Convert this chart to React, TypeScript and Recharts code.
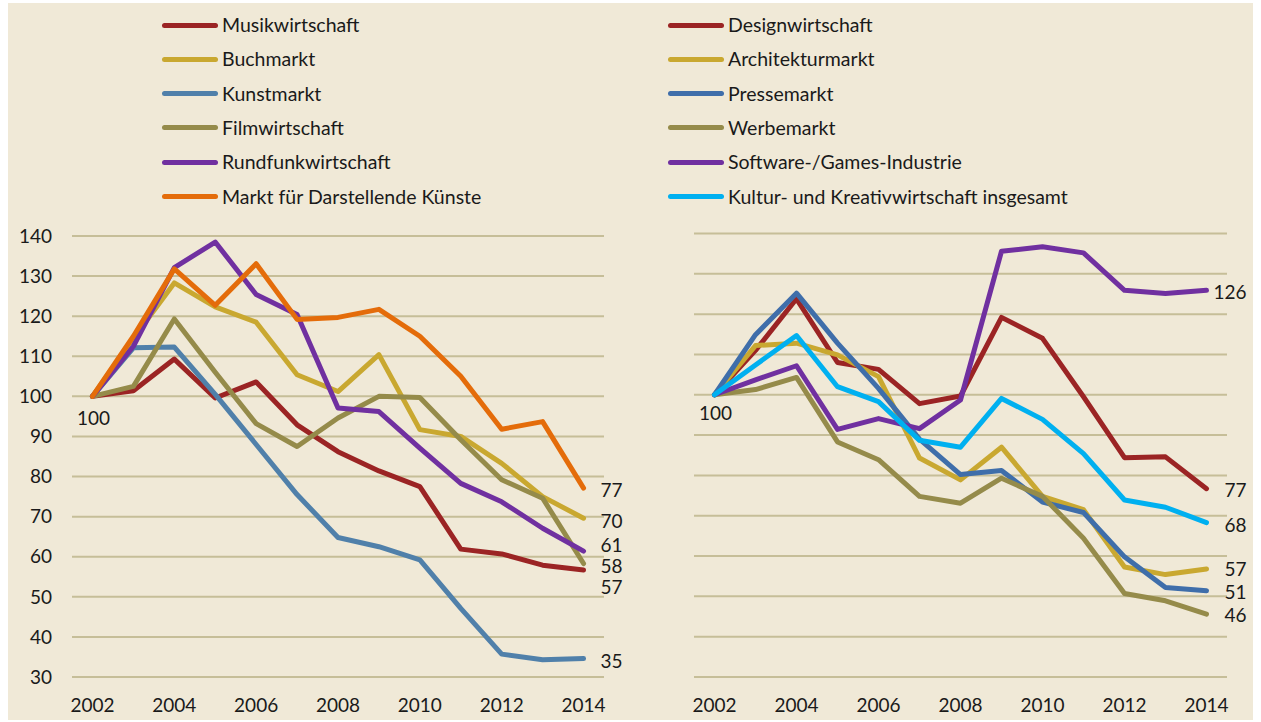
import React from 'react';
import { LineChart, Line, XAxis, YAxis, CartesianGrid, LabelList } from 'recharts';

// years and ticks
const years = [2002, 2003, 2004, 2005, 2006, 2007, 2008, 2009, 2010, 2011, 2012, 2013, 2014];
const yearTicks = [2002, 2004, 2006, 2008, 2010, 2012, 2014];
const indexTicks = [30, 40, 50, 60, 70, 80, 90, 100, 110, 120, 130, 140];

// left panel
const musikwirtschaft = [100, 101.4, 109.3, 99.6, 103.6, 92.9, 86.2, 81.4, 77.5, 61.9, 60.7, 57.9, 56.7];
const buchmarkt = [100, 114.5, 128.3, 122.3, 118.5, 105.4, 101.2, 110.4, 91.7, 90.0, 83.3, 75.0, 69.6];
const kunstmarkt = [100, 112.1, 112.3, 100.5, 88.0, 75.5, 64.8, 62.5, 59.2, 47.1, 35.7, 34.3, 34.6];
const filmwirtschaft = [100, 102.5, 119.3, 106.0, 93.2, 87.5, 94.6, 100.0, 99.7, 89.2, 79.2, 74.6, 58.3];
const rundfunkwirtschaft = [100, 112.5, 132.1, 138.5, 125.4, 120.4, 97.1, 96.2, 87.1, 78.3, 73.7, 67.1, 61.4];
const darstellendeKuenste = [100, 115.0, 131.8, 122.7, 133.1, 119.2, 119.7, 121.7, 115.0, 105.0, 91.8, 93.7, 77.1];

// right panel
const designwirtschaft = [100, 111.0, 123.8, 108.0, 106.3, 97.8, 99.7, 119.2, 114.0, 99.5, 84.4, 84.6, 76.7];
const architekturmarkt = [100, 112.2, 112.8, 109.9, 104.5, 84.3, 78.9, 87.0, 74.8, 71.5, 57.3, 55.4, 56.8];
const pressemarkt = [100, 114.9, 125.2, 112.8, 101.6, 89.0, 80.2, 81.2, 73.4, 70.8, 59.8, 52.2, 51.4];
const werbemarkt = [100, 101.3, 104.3, 88.3, 83.9, 74.8, 73.1, 79.3, 74.8, 64.4, 50.7, 48.9, 45.6];
const softwareGames = [100, 103.7, 107.2, 91.4, 94.1, 91.6, 98.7, 135.6, 136.7, 135.2, 125.9, 125.1, 125.9];
const kreativwirtschaftGesamt = [100, 107.4, 114.7, 102.0, 98.3, 88.7, 87.0, 99.1, 93.9, 85.4, 73.9, 72.1, 68.3];

type Series = { key: string; name: string; values: number[]; color: string; dx: number; dy: number; start?: number };

const leftSeries: Series[] = [
  { key: 'musik', name: 'Musikwirtschaft', values: musikwirtschaft, color: '#9B2424', dx: 17, dy: 17, start: 21 },
  { key: 'buch', name: 'Buchmarkt', values: buchmarkt, color: '#C9A830', dx: 17, dy: 2 },
  { key: 'kunst', name: 'Kunstmarkt', values: kunstmarkt, color: '#5080AA', dx: 17, dy: 2 },
  { key: 'film', name: 'Filmwirtschaft', values: filmwirtschaft, color: '#958B4A', dx: 17, dy: 2 },
  { key: 'rundfunk', name: 'Rundfunkwirtschaft', values: rundfunkwirtschaft, color: '#7030A0', dx: 17, dy: -7 },
  { key: 'darst', name: 'Markt für Darstellende Künste', values: darstellendeKuenste, color: '#E46C0A', dx: 17, dy: 1 },
];

const rightSeries: Series[] = [
  { key: 'design', name: 'Designwirtschaft', values: designwirtschaft, color: '#9B2424', dx: 18, dy: 1, start: 18 },
  { key: 'archi', name: 'Architekturmarkt', values: architekturmarkt, color: '#C9A830', dx: 18, dy: 0 },
  { key: 'presse', name: 'Pressemarkt', values: pressemarkt, color: '#3F6EAA', dx: 18, dy: 1 },
  { key: 'werbe', name: 'Werbemarkt', values: werbemarkt, color: '#958B4A', dx: 18, dy: 0 },
  { key: 'software', name: 'Software-/Games-Industrie', values: softwareGames, color: '#7030A0', dx: 7, dy: 1 },
  { key: 'gesamt', name: 'Kultur- und Kreativwirtschaft insgesamt', values: kreativwirtschaftGesamt, color: '#00B0F0', dx: 18, dy: 2 },
];

const FONT = 'Lato, "Open Sans", sans-serif';
const BG = '#F0E9D7';
const GRID = '#C6BE98';
const TXT = '#1a1a1a';

const buildRows = (series: Series[]) =>
  years.map((year, i) => {
    const row: Record<string, number> = { year };
    series.forEach((s) => (row[s.key] = s.values[i]));
    return row;
  });

const makeLabel = (s: Series) => (props: any) => {
  const { x, y, value, index } = props;
  if (index === years.length - 1) {
    return (
      <text x={x + s.dx} y={y + s.dy} dominantBaseline="central" fontSize={19} fontFamily={FONT} fill={TXT}>
        {Math.round(value)}
      </text>
    );
  }
  if (index === 0 && s.start) {
    return (
      <text x={x + 1} y={y + s.start} textAnchor="middle" dominantBaseline="central" fontSize={19} fontFamily={FONT} fill={TXT}>
        {Math.round(value)}
      </text>
    );
  }
  return null;
};

const Panel = ({ series, left, width, marginLeft, marginRight, marginTop, showY }: any) => (
  <div style={{ position: 'absolute', left, top: 200 }}>
    <LineChart
      width={width}
      height={522}
      data={buildRows(series)}
      margin={{ top: marginTop, right: marginRight, left: marginLeft, bottom: 15 }}
    >
      <CartesianGrid vertical={false} stroke={GRID} strokeWidth={2} />
      <XAxis
        dataKey="year"
        type="number"
        domain={[2001.5, 2014.5]}
        ticks={yearTicks}
        axisLine={false}
        tickLine={false}
        height={30}
        tickMargin={16}
        tick={{ fontSize: 19, fontFamily: FONT, fill: TXT }}
      />
      <YAxis
        type="number"
        domain={[30, 140]}
        ticks={indexTicks}
        axisLine={false}
        tickLine={false}
        width={showY ? 60 : 0}
        tick={showY ? { fontSize: 19, fontFamily: FONT, fill: TXT } : () => <g />}
        tickMargin={14}
        interval={0}
      />
      {series.map((s: Series) => (
        <Line
          key={s.key}
          dataKey={s.key}
          name={s.name}
          stroke={s.color}
          strokeWidth={5}
          strokeLinejoin="round"
          strokeLinecap="round"
          dot={false}
          type="linear"
          isAnimationActive={false}
        >
          <LabelList dataKey={s.key} content={makeLabel(s)} />
        </Line>
      ))}
    </LineChart>
  </div>
);

const LegendColumn = ({ series, swatchLeft, textLeft }: { series: Series[]; swatchLeft: number; textLeft: number }) => (
  <>
    {series.map((s, i) => {
      const cy = 25 + i * 34.3;
      return (
        <React.Fragment key={s.key}>
          <div
            style={{
              position: 'absolute',
              left: swatchLeft,
              top: cy - 2.5,
              width: 56,
              height: 5,
              borderRadius: 3,
              background: s.color,
            }}
          />
          <div
            style={{
              position: 'absolute',
              left: textLeft,
              top: cy - 13,
              height: 26,
              lineHeight: '26px',
              fontSize: 19.5,
              fontFamily: FONT,
              color: TXT,
              whiteSpace: 'nowrap',
            }}
          >
            {s.name}
          </div>
        </React.Fragment>
      );
    })}
  </>
);

export default function App() {
  return (
    <div style={{ position: 'absolute', left: 0, top: 0, width: 1261, height: 722, background: '#fff', overflow: 'hidden' }}>
      <div style={{ position: 'absolute', left: 8, top: 3, width: 1245, height: 717, background: BG }} />
      <LegendColumn series={leftSeries} swatchLeft={162} textLeft={222} />
      <LegendColumn series={rightSeries} swatchLeft={668} textLeft={728} />
      <Panel series={leftSeries} left={0} width={640} marginLeft={12} marginRight={36} marginTop={36} showY />
      <Panel series={rightSeries} left={660} width={601} marginLeft={34} marginRight={34} marginTop={33.5} showY={false} />
    </div>
  );
}
